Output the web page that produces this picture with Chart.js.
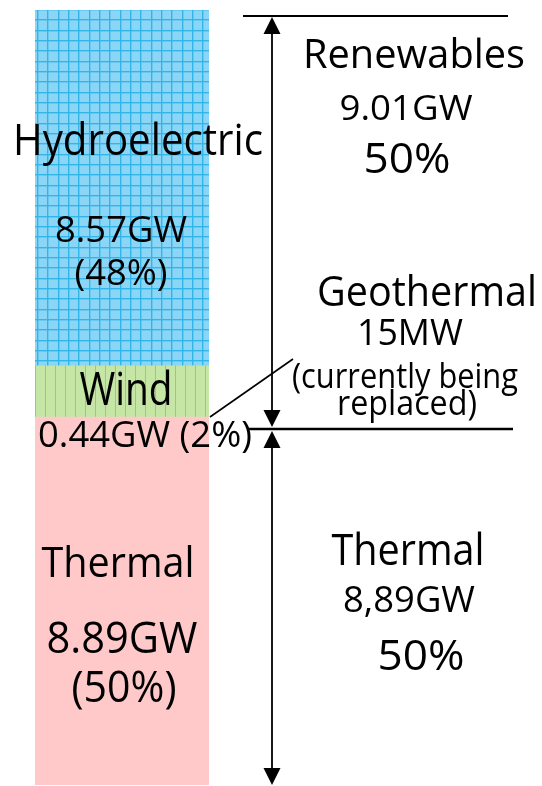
<!DOCTYPE html>
<html>
<head>
<meta charset="utf-8">
<script src="https://cdn.jsdelivr.net/npm/chart.js@4"></script>
<style>
    html, body { margin: 0; padding: 0; background: #ffffff; }
    canvas { display: block; }
</style>
</head>
<body>
<canvas id="capacityChart" width="542" height="786"></canvas>
<script>
// Stack order, bottom to top
const sources = ['Thermal', 'Wind', 'Hydroelectric'];
// Segment heights as drawn in the picture (GW scale, total 17.9)
const drawnCapacity = [8.50, 1.18, 8.22];
const capacityLabels = ['8.89GW', '0.44GW', '8.57GW'];
const shareLabels = ['(50%)', '(2%)', '(48%)'];

// Right-hand summary
const groups = ['Renewables', 'Thermal'];
const groupCapacity = ['9.01GW', '8,89GW'];
const groupShare = ['50%', '50%'];
const geoLines = ['Geothermal', '15MW', '(currently being', 'replaced)'];

const total = drawnCapacity.reduce((a, b) => a + b, 0);

// Fill patterns, built on small offscreen tiles
function makeTile(size, paint) {
    const c = document.createElement('canvas');
    c.width = size;
    c.height = size;
    paint(c.getContext('2d'));
    return c;
}

const ctx = document.getElementById('capacityChart').getContext('2d');

const hydroFill = ctx.createPattern(makeTile(31, g => {
    g.fillStyle = '#8bd5f6';
    g.fillRect(0, 0, 31, 31);
    g.fillStyle = '#32b6e7';
    [6, 16, 27].forEach(p => {
        g.fillRect(p, 0, 1, 31);
        g.fillRect(0, (p + 3) % 31, 31, 1);
    });
    g.fillStyle = 'rgba(46, 180, 231, 0.35)';
    [7, 17, 28].forEach(p => {
        g.fillRect(p, 0, 1, 31);
        g.fillRect(0, (p + 3) % 31, 31, 1);
    });
}), 'repeat');

const windFill = ctx.createPattern(makeTile(10, g => {
    g.fillStyle = '#c6e6a6';
    g.fillRect(0, 0, 10, 10);
    g.fillStyle = '#8ed364';
    g.fillRect(5, 0, 1, 10);
}), 'repeat');

const thermalFill = '#ffc9c9';

// Text drawn in a Calibri-like shape: size from cap height, squeezed to width
function fitText(c, text, cx, base, cap, width) {
    c.font = (cap * 1.05 / 0.714).toFixed(1) + 'px "Open Sans"';
    const m = c.measureText(text).width;
    c.save();
    c.translate(cx, base);
    c.scale(width / m, 1);
    c.textAlign = 'center';
    c.textBaseline = 'alphabetic';
    c.fillStyle = '#000000';
    c.fillText(text, 0, 0);
    c.restore();
}

function arrowHead(c, x, tipY, dir) {
    c.beginPath();
    c.moveTo(x, tipY);
    c.lineTo(x - 8.5, tipY + dir * 17);
    c.lineTo(x + 8.5, tipY + dir * 17);
    c.closePath();
    c.fill();
}

const annotations = {
    id: 'annotations',
    afterDraw(chart) {
        const c = chart.ctx;
        const y = chart.scales.y;
        const area = chart.chartArea;
        const barRight = area.right;

        // Segment labels
        fitText(c, sources[2], 138, 155, 30, 250);
        fitText(c, capacityLabels[2], 121, 242, 25, 132);
        fitText(c, shareLabels[2], 121, 285, 25, 93);
        fitText(c, sources[1], 126, 405, 31, 93);
        fitText(c, capacityLabels[1] + ' ' + shareLabels[1], 145, 447, 25, 214);
        fitText(c, sources[0], 118, 577, 29, 153);
        fitText(c, capacityLabels[0], 122, 653, 30, 151);
        fitText(c, shareLabels[0], 124, 702, 30, 105);

        // Brackets and arrows
        const topY = y.getPixelForValue(total) + 6;
        const midY = y.getPixelForValue(drawnCapacity[0]) + 12;
        const botY = y.getPixelForValue(0);
        const ax = 272;
        c.save();
        c.strokeStyle = '#000000';
        c.fillStyle = '#000000';

        c.lineWidth = 2;
        c.beginPath();
        c.moveTo(243, topY);
        c.lineTo(508, topY);
        c.stroke();
        c.lineWidth = 2.5;
        c.beginPath();
        c.moveTo(247, midY);
        c.lineTo(513, midY);
        c.stroke();

        c.lineWidth = 1.8;
        c.beginPath();
        c.moveTo(ax, topY + 8);
        c.lineTo(ax, midY - 8);
        c.moveTo(ax, midY + 8);
        c.lineTo(ax, botY - 8);
        c.stroke();
        arrowHead(c, ax, topY + 1, 1);
        arrowHead(c, ax, midY - 2, -1);
        arrowHead(c, ax, midY + 2, 1);
        arrowHead(c, ax, botY, -1);

        // Leader from the wind/thermal boundary to the geothermal note
        const windBase = y.getPixelForValue(drawnCapacity[0]);
        c.lineWidth = 1.6;
        c.beginPath();
        c.moveTo(barRight + 1, windBase);
        c.lineTo(293, 359);
        c.stroke();
        c.restore();

        // Right-hand summary
        fitText(c, groups[0], 414, 68, 27, 222);
        fitText(c, groupCapacity[0], 406, 120, 24, 133);
        fitText(c, groupShare[0], 407, 173, 28, 87);
        fitText(c, geoLines[0], 427, 306, 28, 220);
        fitText(c, geoLines[1], 410, 345, 25, 106);
        fitText(c, geoLines[2], 405, 388, 24, 226);
        fitText(c, geoLines[3], 407, 415, 24, 140);
        fitText(c, groups[1], 408, 565, 30, 153);
        fitText(c, groupCapacity[1], 409, 612, 25, 132);
        fitText(c, groupShare[1], 421, 670, 28, 87);
    }
};

new Chart(ctx, {
    type: 'bar',
    data: {
        labels: ['Capacity'],
        datasets: sources.map((name, i) => ({
            label: name,
            data: [drawnCapacity[i]],
            backgroundColor: [thermalFill, windFill, hydroFill][i],
            borderWidth: 0,
            barPercentage: 1,
            categoryPercentage: 1
        }))
    },
    options: {
        responsive: false,
        animation: false,
        layout: {
            padding: { left: 35, right: 333, top: 10, bottom: 1 }
        },
        plugins: {
            legend: { display: false },
            tooltip: { enabled: false }
        },
        scales: {
            x: { stacked: true, display: false },
            y: { stacked: true, display: false, min: 0, max: total }
        }
    },
    plugins: [annotations]
});
</script>
</body>
</html>
